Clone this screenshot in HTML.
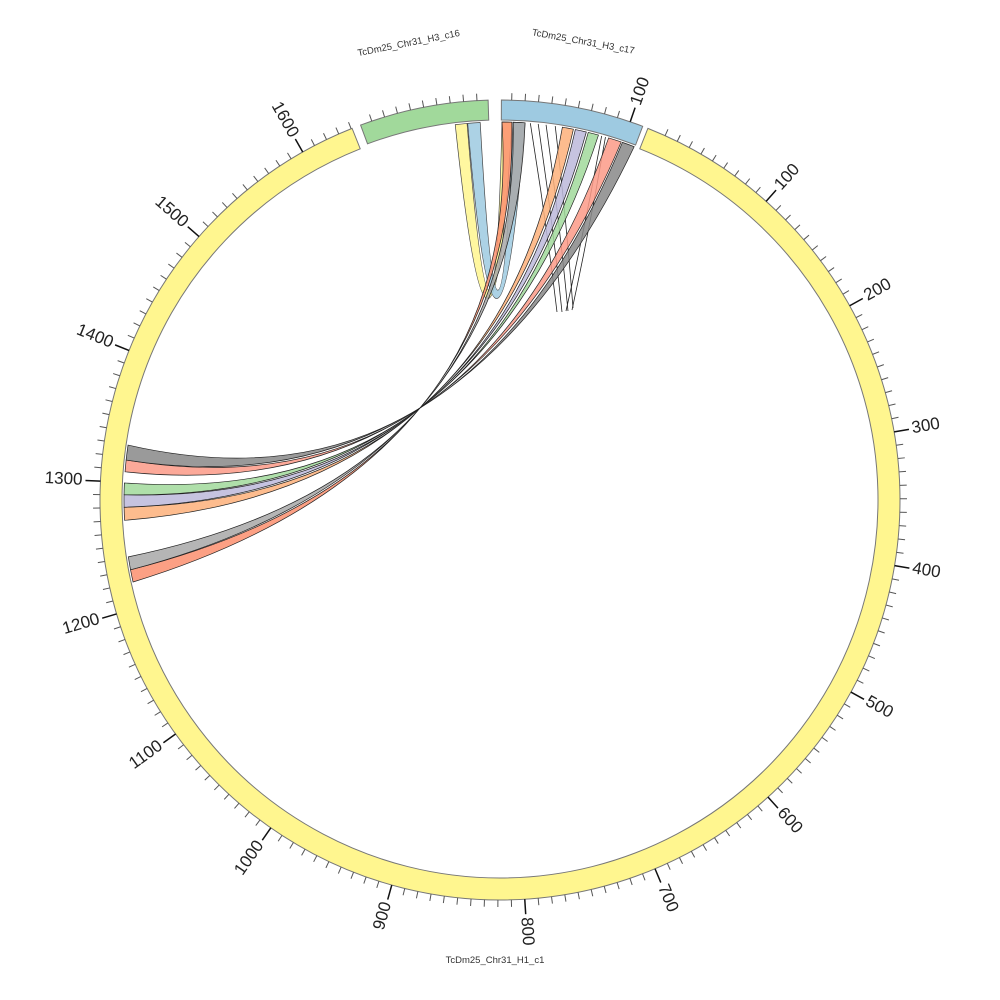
<!DOCTYPE html>
<html><head><meta charset="utf-8"><style>
html,body{margin:0;padding:0;background:#fff;}
svg{display:block;}
.n{font-family:"Liberation Sans",sans-serif;font-size:17px;fill:#222;dominant-baseline:middle;}
.c{font-family:"Liberation Sans",sans-serif;font-size:9.5px;fill:#333;text-anchor:middle;}
</style></head><body>
<svg id="s" width="1000" height="1000" viewBox="0 0 1000 1000" xmlns="http://www.w3.org/2000/svg">
<g id="links"></g>
<g id="ideo"></g>
<g id="ticks"></g>
<g>
<text class="n" x="918" y="500" transform="rotate(-48.3 500 500)">100</text>
<text class="n" x="918" y="500" transform="rotate(-29.05 500 500)">200</text>
<text class="n" x="918" y="500" transform="rotate(-9.8 500 500)">300</text>
<text class="n" x="918" y="500" transform="rotate(9.45 500 500)">400</text>
<text class="n" x="918" y="500" transform="rotate(28.7 500 500)">500</text>
<text class="n" x="918" y="500" transform="rotate(47.95 500 500)">600</text>
<text class="n" x="918" y="500" transform="rotate(67.2 500 500)">700</text>
<text class="n" x="918" y="500" transform="rotate(86.45 500 500)">800</text>
<text class="n" x="82" y="500" text-anchor="end" transform="rotate(-74.3 500 500)">900</text>
<text class="n" x="82" y="500" text-anchor="end" transform="rotate(-55.05 500 500)">1000</text>
<text class="n" x="82" y="500" text-anchor="end" transform="rotate(-35.8 500 500)">1100</text>
<text class="n" x="82" y="500" text-anchor="end" transform="rotate(-16.55 500 500)">1200</text>
<text class="n" x="82" y="500" text-anchor="end" transform="rotate(2.7 500 500)">1300</text>
<text class="n" x="82" y="500" text-anchor="end" transform="rotate(21.95 500 500)">1400</text>
<text class="n" x="82" y="500" text-anchor="end" transform="rotate(41.2 500 500)">1500</text>
<text class="n" x="82" y="500" text-anchor="end" transform="rotate(60.45 500 500)">1600</text>
<text class="n" x="918" y="500" transform="rotate(-71 500 500)">100</text>
<text class="c" x="500" y="37" transform="rotate(-11.3 500 500)">TcDm25_Chr31_H3_c16</text>
<text class="c" x="500" y="37" transform="rotate(10.3 500 500)">TcDm25_Chr31_H3_c17</text>
<text class="c" x="495" y="963">TcDm25_Chr31_H1_c1</text>
</g>
</svg>
<script>
var NS="http://www.w3.org/2000/svg";
function P(r,a){a=a*Math.PI/180;return [500+r*Math.sin(a),500-r*Math.cos(a)];}
function f(p){return p[0].toFixed(2)+","+p[1].toFixed(2);}
function el(g,tag,attrs){var e=document.createElementNS(NS,tag);for(var k in attrs)e.setAttribute(k,attrs[k]);document.getElementById(g).appendChild(e);return e;}
function ann(r1,r2,a1,a2,fill){
 var lg=(a2-a1)>180?1:0;
 var d="M"+f(P(r2,a1))+"A"+r2+","+r2+" 0 "+lg+" 1 "+f(P(r2,a2))+"L"+f(P(r1,a2))+"A"+r1+","+r1+" 0 "+lg+" 0 "+f(P(r1,a1))+"Z";
 el("ideo","path",{d:d,fill:fill,stroke:"#777","stroke-width":1});
}
ann(378,400,21.7,338.3,"#fff68f");
ann(380,400,0.2,20.9,"#9ecae1");
ann(380,400,339.6,358.3,"#a1d99b");
function tick(a,r1,r2,w,c){var p=P(r1,a),q=P(r2,a);el("ticks","line",{x1:p[0],y1:p[1],x2:q[0],y2:q[1],stroke:c,"stroke-width":w});}
for(var u=10;u<=1640;u+=10){var a=22.45+u*0.1925;if(u%100==0)tick(a,400,415,1.5,"#111");else tick(a,400,407,1,"#555");}
for(var k=0;k<10;k++){var a=19-1.925*k;if(k==0)tick(a,400,415,1.5,"#111");else tick(a,400,407,1,"#555");}
for(var k=0;k<9;k++){tick(-3.3-1.925*k,400,407,1,"#555");}
var X=[420,408];
function ctrl(A,B){return [2*X[0]-(A[0]+B[0])/2,2*X[1]-(A[1]+B[1])/2];}
function rib(a1,a2,b1,b2,col){
 var rt=378,rb=376;
 var A1=P(rt,a1),A2=P(rt,a2),B1=P(rb,b1),B2=P(rb,b2);
 var d="M"+f(A1)+"A"+rt+","+rt+" 0 0 1 "+f(A2)+"Q"+f(ctrl(A2,B1))+" "+f(B1)+"A"+rb+","+rb+" 0 0 1 "+f(B2)+"Q"+f(ctrl(B2,A1))+" "+f(A1)+"Z";
 el("links","path",{d:d,fill:col,"fill-opacity":0.85,stroke:"#222","stroke-width":0.7});
}
function self(a1,a2,b1,b2,col,c1,c2){
 var r=378,A1=P(r,a1),A2=P(r,a2),B1=P(r,b1),B2=P(r,b2);
 var d="M"+f(A1)+"A"+r+","+r+" 0 0 1 "+f(A2)+"Q"+f(c2)+" "+f(B1)+"A"+r+","+r+" 0 0 1 "+f(B2)+"Q"+f(c1)+" "+f(A1)+"Z";
 el("links","path",{d:d,fill:col,"fill-opacity":0.85,stroke:"#444","stroke-width":0.7});
}
[[4.6,557,312],[5.8,562,312],[7.0,568,311],[8.4,573,308],[15.6,566,311],[16.2,572,310]].forEach(function(t){
 var A=P(378,t[0]);el("links","path",{d:"M"+f(A)+"Q"+f([(A[0]+t[1])/2+2,(A[1]+t[2])/2])+" "+t[1]+","+t[2],fill:"none",stroke:"#222","stroke-width":0.8});
});
self(-6.8,-5.0,0.3,1.8,"#fff68f",[492,474],[494,458]);
self(-4.9,-3.0,2.0,3.8,"#9ecae1",[497,474],[499,458]);
rib(0.3,1.8,257.4,259.3,"#fb8f6f");
rib(2.0,3.8,259.3,261.3,"#a8a8a8");
rib(9.5,11.2,266.9,268.9,"#fdb07a");
rib(11.5,13.2,268.9,270.8,"#bcb8da");
rib(13.5,15.1,270.8,272.6,"#a1d99b");
rib(16.7,18.7,274.3,276.1,"#fb9a87");
rib(18.9,20.8,276.1,278.4,"#888888");
</script>
</body></html>
